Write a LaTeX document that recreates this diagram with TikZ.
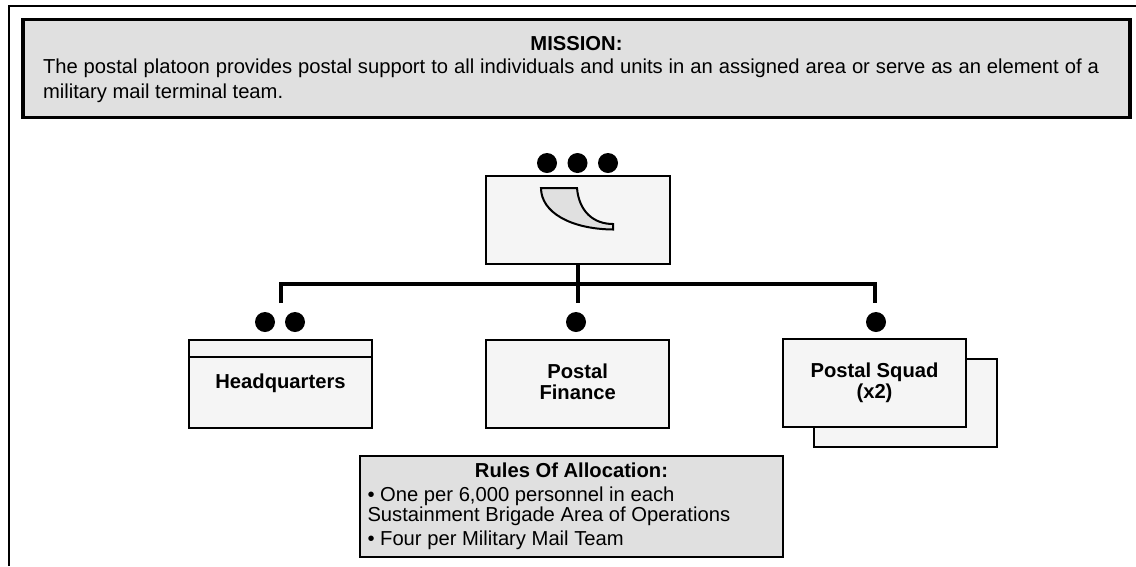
\documentclass[tikz,border=0pt]{standalone}
\usepackage{fontspec}
\setmainfont{Liberation Sans}
\begin{document}
\begin{tikzpicture}[x=1pt,y=-1pt,
	every node/.style={font=\fontsize{20.2}{21}\selectfont},
	panel/.style={draw,line width=2pt,fill=black!4,minimum width=183pt,minimum height=88pt,align=center,inner sep=0pt},
	note/.style={draw,fill=black!12,inner sep=0pt},
	dot/.style={circle,fill=black,inner sep=0pt,minimum size=20pt},
	bus/.style={line width=4.5pt}]
	\useasboundingbox (0,0) rectangle (1136,566);
	\coordinate (frameb) at (9,566);
	\coordinate (framer) at (1136,6);
	\draw[line width=2pt] (frameb) |- (framer);
	\node[note,line width=3.2pt,minimum width=1107pt,minimum height=98pt] (mission) at (576.5,68.3) {};
	\node[inner sep=0pt] (missionhead) at (576.5,44) {\textbf{MISSION:}};
	\node[inner sep=0pt,text width=1056pt,align=justify,font=\fontsize{20.2}{25}\selectfont] (missiontext) at (571,81) {The postal platoon provides postal support to all individuals and units in an assigned area or serve as an element of a military mail terminal team.};
	\node[panel,minimum width=184pt] (platoon) at (577.5,220) {};
	\draw[line width=2pt,fill=black!12] (541,188) -- (577,188) .. controls (579,212) and (594,224) .. (613,224) -- (613,229.5) .. controls (570,229) and (541,212) .. (541,188) -- cycle;
	\node[dot] (plt1) at (547,163) {};
	\node[dot] (plt2) at (577.5,163) {};
	\node[dot] (plt3) at (608,163) {};
	\coordinate (dropl) at (281,303);
	\coordinate (dropm) at (578,303);
	\coordinate (dropr) at (875,303);
	\coordinate (busm) at (578,284);
	\draw[bus] (dropl) |- (busm) -| (dropr);
	\draw[bus] (platoon.south -| busm) -- (dropm);
	\node[panel] (hq) at (280.5,383.5) {\textbf{Headquarters}};
	\coordinate (hqtop) at (189,357);
	\draw[line width=2pt] (hqtop) -- (hqtop -| hq.east);
	\node[dot] (hq1) at (265,322) {};
	\node[dot] (hq2) at (295,322) {};
	\node[panel] (finance) at (577.7,383.5) {\textbf{Postal}\\\textbf{Finance\vphantom{(}}};
	\node[dot] (fin1) at (576,322) {};
	\node[panel] (squadb) at (905,402.5) {};
	\node[panel] (squad) at (874.5,383) {\textbf{Postal Squad}\\\textbf{(x2)}};
	\node[dot] (sq1) at (876,322) {};
	\node[note,line width=2pt,minimum width=423pt,minimum height=101pt] (rules) at (571.5,506.5) {\parbox{408pt}{\fontsize{20.2}{20}\selectfont{\centering\textbf{Rules Of Allocation:}\par}
		\vspace{4pt}\noindent • One per 6,000 personnel in each\\
		Sustainment Brigade Area of Operations\par
		\vspace{4pt}\noindent • Four per Military Mail Team\par}};
\end{tikzpicture}
\end{document}
